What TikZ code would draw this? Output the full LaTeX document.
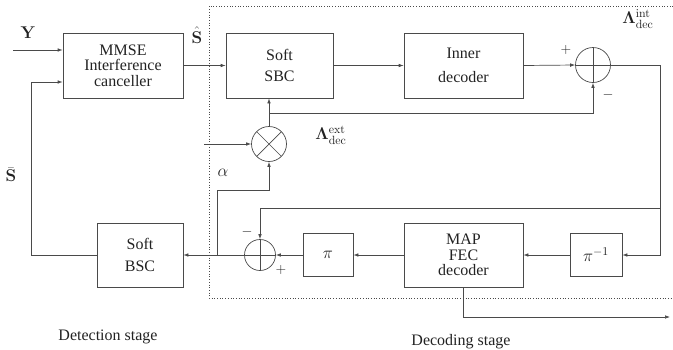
\RequirePackage{fix-cm}
\documentclass[tikz,border=0pt]{standalone}
\usepackage{amsmath}
\usepackage[no-math]{fontspec}
\setmainfont{Liberation Serif}
\usetikzlibrary{arrows.meta,calc}
\definecolor{ink}{HTML}{222222}
\definecolor{wire}{HTML}{4A4A4A}

\begin{document}
\begin{tikzpicture}[x=1pt, y=-1pt,
    every node/.style={font=\fontsize{16}{15.5}\selectfont, text=ink},
    blk/.style={draw=wire, line width=0.7pt, align=center, inner sep=0pt},
    sumc/.style={circle, draw=wire, line width=0.7pt, inner sep=0pt, minimum size=#1,
                 path picture={\draw[wire, line width=0.7pt]
                   (path picture bounding box.north) -- (path picture bounding box.south)
                   (path picture bounding box.west) -- (path picture bounding box.east);}},
    mulc/.style={circle, draw=wire, line width=0.7pt, inner sep=0pt, minimum size=#1,
                 path picture={\draw[wire, line width=0.7pt]
                   (path picture bounding box.north west) -- (path picture bounding box.south east)
                   (path picture bounding box.south west) -- (path picture bounding box.north east);}},
    lnk/.style={draw=wire, line width=0.7pt},
    arr/.style={lnk, -{Latex[length=5pt,width=3.6pt]}},
    sgn/.style={font=\fontsize{14}{14}\selectfont, inner sep=0pt},
    mth/.style={font=\fontsize{17}{17}\selectfont, inner sep=1pt},
  ]
  \useasboundingbox (0,0) rectangle (673,349);

  % the decoding stage frame
  \draw[dotted, wire, line width=0.7pt] (673,6) -- (209,6) -- (209,298) -- (673,298);

  % detection stage
  \node[blk, minimum width=120pt, minimum height=65pt] (mmse) at (123,65.5)
        {MMSE\\Interference\\canceller};
  \node[blk, minimum width=86pt, minimum height=64pt] (bsc) at (140,255)
        {Soft\\[7pt]BSC};

  % upper decoding row
  \node[blk, minimum width=107pt, minimum height=65pt] (sbc) at (279.5,65.5)
        {Soft\\[6pt]SBC};
  \node[blk, minimum width=119pt, minimum height=65pt] (inner) at (463.5,65.5)
        {Inner\\[8pt]decoder};
  \node[sumc=35pt] (sum1) at (593,65) {};
  \node[mulc=35pt] (mul) at (269,144) {};

  % lower decoding row
  \node[sumc=31pt] (sum2) at (260,255) {};
  \node[blk, mth, minimum width=50pt, minimum height=43pt] (pi) at (328,255) {$\pi$};
  \node[blk, minimum width=119pt, minimum height=64pt] (map) at (463.5,255)
        {MAP\\FEC\\decoder};
  \node[blk, mth, minimum width=52pt, minimum height=43pt] (piinv) at (596,255) {$\pi^{-1}$};

  % free ends and bends
  \coordinate (yin)  at (13,50);
  \coordinate (fbk)  at (31,82);
  \coordinate (rgt)  at (660,65);
  \coordinate (brk)  at (660,208);
  \coordinate (tap)  at (269,113);
  \coordinate (ain)  at (204,144);
  \coordinate (jn)   at (217,255);
  \coordinate (bend) at (269,190);
  \coordinate (out)  at (670,317);

  % connectors
  \draw[arr] (yin) -- (yin -| mmse.west);
  \draw[arr] (bsc.west) -| (fbk) -- (fbk -| mmse.west);
  \draw[arr] (mmse.east |- sbc.west) -- (sbc.west);
  \draw[arr] (sbc.east) -- (inner.west);
  \draw[arr] (inner.east) -- (sum1.west);
  \draw[arr] (sum1.east) -- (rgt) |- (piinv.east);
  \draw[arr] (brk) -| (sum2.north);
  \draw[arr] (tap) -| (sum1.south);
  \draw[arr] (mul.north) -- (mul.north |- sbc.south);
  \draw[arr] (ain) -- (mul.west);
  \draw[arr] (jn) |- (bend) -- (mul.south);
  \draw[arr] (piinv.west) -- (map.east);
  \draw[arr] (map.west) -- (pi.east);
  \draw[arr] (pi.west) -- (sum2.east);
  \draw[arr] (sum2.west) -- (bsc.east);
  \draw[arr] (map.south) |- (out);

  % signal labels
  \node[mth] (ylab)   at (28,33)   {$\mathbf{Y}$};
  \node[mth] (shat)   at (197,35)  {$\hat{\mathbf{S}}$};
  \node[mth] (sbar)   at (11,175)  {$\bar{\mathbf{S}}$};
  \node[mth] (lamint) at (638,19)  {$\mathbf{\Lambda}^{\mathrm{int}}_{\mathrm{dec}}$};
  \node[mth] (lamext) at (331,135) {$\mathbf{\Lambda}^{\mathrm{ext}}_{\mathrm{dec}}$};
  \node[mth] (alab)   at (223,173) {$\alpha$};

  % signs at the adders
  \node[sgn] (p1) at (566,50)  {$+$};
  \node[sgn] (m1) at (608,95)  {$-$};
  \node[sgn] (m2) at (247,232) {$-$};
  \node[sgn] (p2) at (281,270) {$+$};

  % stage names
  \node (det) at (108,337) {Detection stage};
  \node (dec) at (461,342) {Decoding stage};
\end{tikzpicture}
\end{document}
